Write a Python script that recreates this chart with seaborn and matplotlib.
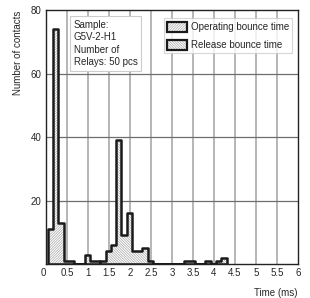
import numpy as np
import pandas as pd
import matplotlib
matplotlib.use("Agg")
import matplotlib.pyplot as plt
import seaborn as sns
from matplotlib.patches import Patch
from matplotlib.legend_handler import HandlerTuple

# ---- data (bin left edge in ms, count) ----
bin_width = 0.125
operating_left = [0.05, 0.175, 0.3, 0.425, 0.55, 0.925, 1.05, 1.175]
operating_count = [11, 74, 13, 1, 1, 3, 1, 1]
release_left = [1.3, 1.425, 1.55, 1.675, 1.8, 1.925, 2.05, 2.175, 2.3, 2.425,
                3.3, 3.425, 3.8, 4.05, 4.175]
release_count = [1, 4, 6, 39, 9, 16, 4, 4, 5, 1, 1, 1, 1, 1, 2]

x_ticks = [0, 0.5, 1, 1.5, 2, 2.5, 3, 3.5, 4, 4.5, 5, 5.5, 6]
x_tick_labels = ["0", "0.5", "1", "1.5", "2", "2.5", "3", "3.5", "4", "4.5", "5", "5.5", "6"]
y_ticks = [20, 40, 60, 80]

HATCH_OP = "/" * 13
HATCH_REL = "\\" * 13
HATCH_COLOR = "#a8a8a8"

sns.set_style("white")
plt.rcParams['font.family'] = ['Liberation Sans', 'DejaVu Sans']
plt.rcParams['hatch.linewidth'] = 0.5

fig = plt.figure(figsize=(3.10, 2.98), dpi=100)
ax = fig.add_axes([0.148, 0.114, 0.813, 0.852])

# grid
for xv in x_ticks[1:-1]:
    ax.axvline(xv, color="#b0b0b0", lw=1.3, zorder=0)
for yv in y_ticks[:-1]:
    ax.axhline(yv, color="#6e6e6e", lw=0.9, zorder=0)

edges = 0.05 + bin_width * np.arange(36)


def draw(left, count, hatch):
    df = pd.DataFrame({"t": np.array(left) + bin_width / 2, "n": count})
    lo = min(left)
    hi = max(left) + bin_width
    b = edges[(edges >= lo - 1e-9) & (edges <= hi + 1e-9)].tolist()
    # hatched fill, then the dark outline on top
    sns.histplot(data=df, x="t", weights="n", bins=b, element="step", fill=True,
                 color=HATCH_COLOR, facecolor="white", edgecolor=HATCH_COLOR, linewidth=0,
                 hatch=hatch, alpha=1, ax=ax, zorder=2)
    sns.histplot(data=df, x="t", weights="n", bins=b, element="step", fill=True,
                 color="#1a1a1a", facecolor="none", edgecolor="#1a1a1a", linewidth=1.8,
                 alpha=1, ax=ax, zorder=3)


draw(operating_left, operating_count, HATCH_OP)
draw(release_left, release_count, HATCH_REL)

ax.set_xlim(0, 6)
ax.set_ylim(0, 80)
ax.set_xticks(x_ticks)
ax.set_xticklabels(x_tick_labels, fontsize=7)
ax.set_yticks(y_ticks)
ax.set_yticklabels([str(v) for v in y_ticks], fontsize=7)
ax.get_xticklabels()[0].set_horizontalalignment("right")
ax.tick_params(length=0, pad=3)
ax.set_xlabel("Time (ms)", fontsize=7, loc="right", labelpad=7)
ax.set_ylabel("Number of contacts", fontsize=7, loc="top", labelpad=6)
for s in ax.spines.values():
    s.set_color("#222222")
    s.set_linewidth(1.0)
    s.set_zorder(4)

ax.text(0.11, 0.962, "Sample:\nG5V-2-H1\nNumber of\nRelays: 50 pcs",
        transform=ax.transAxes, fontsize=7, va="top", ha="left", linespacing=1.32,
        bbox=dict(boxstyle="square,pad=0.35", facecolor="white", edgecolor="#cccccc", lw=0.8),
        zorder=5)

h_op = (Patch(facecolor="white", edgecolor=HATCH_COLOR, hatch=HATCH_OP, lw=0),
        Patch(facecolor="none", edgecolor="#1a1a1a", lw=1.6))
h_rel = (Patch(facecolor="white", edgecolor=HATCH_COLOR, hatch=HATCH_REL, lw=0),
         Patch(facecolor="none", edgecolor="#1a1a1a", lw=1.6))
leg = ax.legend([h_op, h_rel], ["Operating bounce time", "Release bounce time"],
                handler_map={tuple: HandlerTuple(ndivide=1, pad=0)},
                loc="upper right", bbox_to_anchor=(0.985, 0.975), fontsize=7,
                frameon=True, fancybox=False, edgecolor="#cccccc",
                handlelength=2.0, handleheight=1.25, handletextpad=0.4,
                labelspacing=0.75, borderpad=0.35, borderaxespad=0.2)
leg.get_frame().set_linewidth(0.8)
leg.set_zorder(5)

fig.savefig("out.png", dpi=100)
